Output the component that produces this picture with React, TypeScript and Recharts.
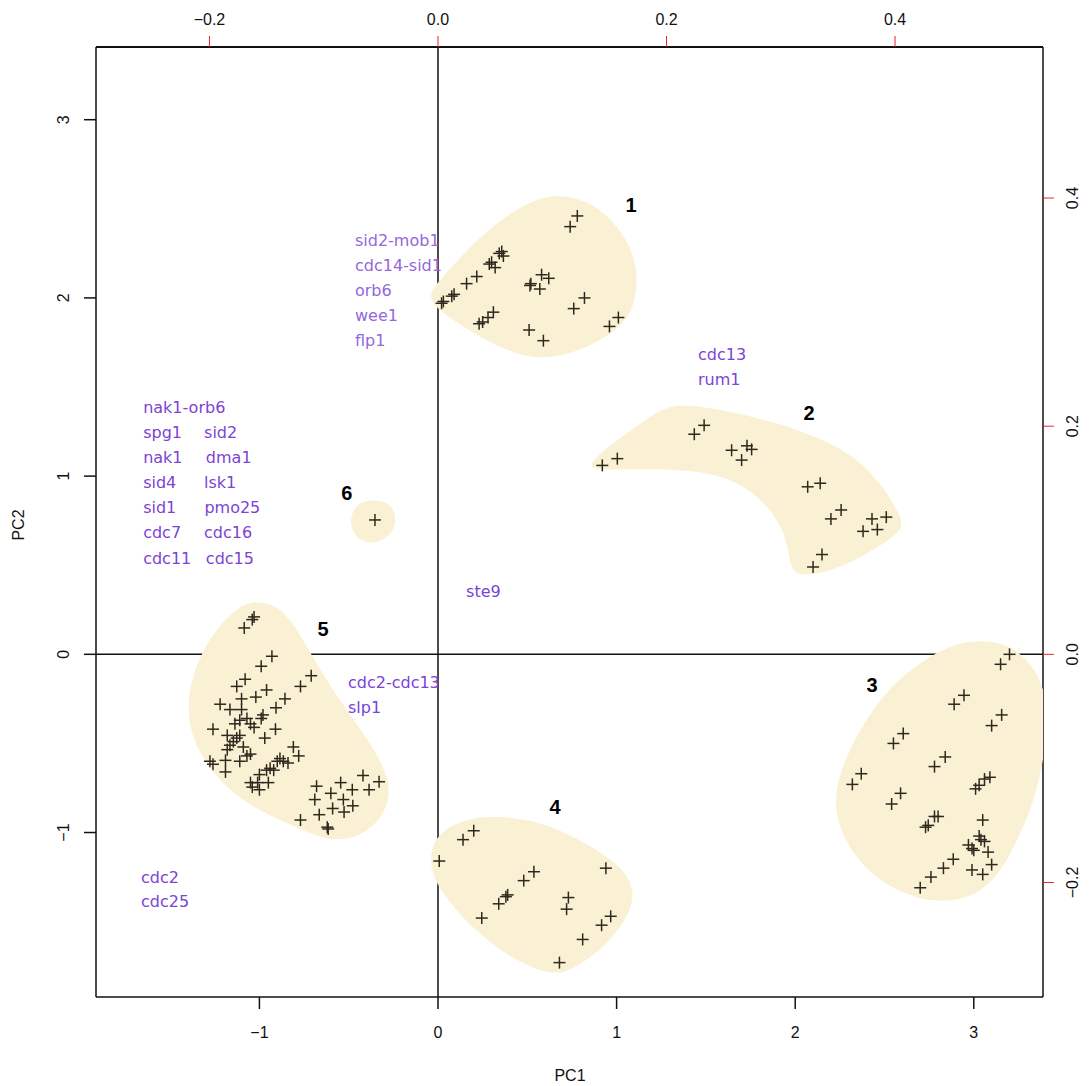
import { ScatterChart, Scatter, XAxis, YAxis, ReferenceLine, Curve, Customized } from 'recharts'

// PC scores, [PC1, PC2]
const cluster1 = [
	[0.78, 2.46], [0.74, 2.4], [0.357, 2.26], [0.343, 2.25], [0.366, 2.235], [0.3, 2.2], [0.287, 2.19], [0.32, 2.17],
	[0.217, 2.12], [0.16, 2.08], [0.09, 2.02], [0.077, 2.01], [0.03, 1.98], [0.02, 1.97], [0.31, 1.92], [0.28, 1.89],
	[0.25, 1.865], [0.23, 1.855], [0.58, 2.13], [0.62, 2.11], [0.52, 2.08], [0.515, 2.07], [0.57, 2.05], [0.82, 2.0],
	[0.76, 1.94], [1.01, 1.89], [0.96, 1.84], [0.51, 1.82], [0.59, 1.76],
]
const cluster2 = [
	[1.49, 1.285], [1.435, 1.235], [1.004, 1.098], [0.92, 1.06], [1.644, 1.145], [1.73, 1.17], [1.756, 1.15], [1.7, 1.09],
	[2.14, 0.96], [2.07, 0.94], [2.257, 0.81], [2.2, 0.76], [2.51, 0.77], [2.43, 0.76], [2.46, 0.7], [2.38, 0.69],
	[2.15, 0.56], [2.1, 0.49],
]
const cluster3 = [
	[3.2, 0.0], [3.15, -0.056], [2.945, -0.23], [2.89, -0.28], [3.156, -0.34], [3.1, -0.4], [2.605, -0.445], [2.55, -0.5],
	[2.84, -0.576], [2.78, -0.63], [2.37, -0.67], [2.32, -0.73], [3.09, -0.69], [3.06, -0.7], [3.03, -0.735], [3.01, -0.755],
	[2.59, -0.78], [2.54, -0.84], [3.05, -0.93], [2.8, -0.91], [2.78, -0.91], [2.745, -0.96], [2.73, -0.97], [3.03, -1.02],
	[3.04, -1.04], [3.06, -1.05], [2.97, -1.07], [2.99, -1.09], [3.0, -1.1], [3.08, -1.11], [3.1, -1.18], [2.99, -1.21],
	[3.05, -1.235], [2.885, -1.15], [2.83, -1.2], [2.76, -1.25], [2.7, -1.31],
]
const cluster4 = [
	[0.007, -1.16], [0.2, -0.99], [0.14, -1.04], [0.94, -1.2], [0.537, -1.22], [0.48, -1.27], [0.39, -1.35], [0.38, -1.36],
	[0.34, -1.4], [0.73, -1.365], [0.72, -1.43], [0.245, -1.48], [0.967, -1.47], [0.916, -1.52], [0.81, -1.6], [0.68, -1.73],
]
const cluster5 = [
	[-1.03, 0.21], [-1.04, 0.195], [-1.085, 0.148], [-0.93, -0.011], [-0.99, -0.067], [-0.71, -0.12], [-0.77, -0.18],
	[-1.08, -0.14], [-1.127, -0.18], [-0.96, -0.2], [-1.02, -0.24], [-1.1, -0.25], [-1.22, -0.28], [-0.857, -0.25],
	[-0.907, -0.3], [-1.165, -0.31], [-1.1, -0.31], [-1.07, -0.36], [-1.05, -0.39], [-0.98, -0.34], [-0.99, -0.36],
	[-1.137, -0.39], [-1.11, -0.37], [-1.26, -0.42], [-1.03, -0.41], [-0.91, -0.42], [-1.18, -0.455], [-1.11, -0.455],
	[-1.127, -0.47], [-1.146, -0.49], [-1.165, -0.51], [-0.97, -0.47], [-1.09, -0.52], [-1.18, -0.535], [-1.05, -0.56],
	[-1.07, -0.57], [-0.81, -0.52], [-0.78, -0.57], [-0.885, -0.585], [-0.9, -0.6], [-0.866, -0.6], [-0.84, -0.61],
	[-1.19, -0.595], [-1.277, -0.6], [-1.26, -0.617], [-1.11, -0.6], [-0.94, -0.64], [-0.96, -0.65], [-0.92, -0.65],
	[-1.19, -0.66], [-1.0, -0.675], [-0.95, -0.72], [-1.01, -0.72], [-1.05, -0.72], [-1.04, -0.745], [-1.0, -0.76],
	[-0.42, -0.68], [-0.33, -0.715], [-0.386, -0.76], [-0.545, -0.72], [-0.48, -0.76], [-0.68, -0.74], [-0.6, -0.78],
	[-0.69, -0.815], [-0.53, -0.815], [-0.59, -0.865], [-0.477, -0.85], [-0.526, -0.885], [-0.665, -0.9], [-0.77, -0.93],
	[-0.62, -0.97], [-0.615, -0.98],
]
const cluster6 = [[-0.353, 0.754]]

// hull outlines of the shaded cluster areas (PC units)
const blob1 = [
	[-0.08, 2.0], [0.03, 2.12], [0.161, 2.27], [0.347, 2.44], [0.534, 2.55], [0.665, 2.58], [0.833, 2.55], [0.99, 2.43],
	[1.1, 2.25], [1.12, 2.08], [1.09, 1.92], [0.99, 1.81], [0.833, 1.72], [0.646, 1.66], [0.459, 1.67], [0.25, 1.77], [0.06, 1.89],
]
const blob2 = [
	[0.81, 1.04], [0.963, 1.175], [1.131, 1.29], [1.289, 1.41], [1.523, 1.385], [1.803, 1.325], [2.083, 1.24], [2.335, 1.115],
	[2.49, 0.945], [2.57, 0.81], [2.62, 0.71], [2.485, 0.615], [2.325, 0.52], [2.157, 0.455], [1.975, 0.43], [1.965, 0.604],
	[1.905, 0.754], [1.795, 0.89], [1.61, 1.0], [1.393, 1.035], [1.149, 1.04], [0.963, 1.035],
]
const blob3 = [
	[3.016, 0.08], [3.184, 0.065], [3.33, -0.05], [3.41, -0.238], [3.42, -0.425], [3.35, -0.8], [3.25, -1.03], [3.155, -1.22],
	[3.016, -1.355], [2.848, -1.39], [2.69, -1.375], [2.5, -1.295], [2.33, -1.14], [2.225, -0.93], [2.225, -0.743], [2.295, -0.55],
	[2.41, -0.34], [2.562, -0.15], [2.736, -0.02], [2.885, 0.055],
]
const blob4 = [
	[-0.045, -1.164], [-0.03, -1.055], [0.045, -0.975], [0.161, -0.925], [0.31, -0.905], [0.497, -0.925], [0.69, -0.985],
	[0.88, -1.09], [1.03, -1.195], [1.1, -1.313], [1.08, -1.44], [0.99, -1.575], [0.875, -1.69], [0.739, -1.775],
	[0.646, -1.795], [0.51, -1.755], [0.36, -1.67], [0.19, -1.535], [0.055, -1.38], [-0.02, -1.266],
]
const blob5 = [
	[-1.015, 0.3], [-0.895, 0.27], [-0.8, 0.16], [-0.705, -0.01], [-0.593, -0.195], [-0.462, -0.382], [-0.33, -0.572],
	[-0.262, -0.745], [-0.292, -0.885], [-0.395, -1.0], [-0.53, -1.048], [-0.665, -1.028], [-0.815, -0.96], [-0.985, -0.885],
	[-1.137, -0.79], [-1.27, -0.655], [-1.365, -0.5], [-1.405, -0.331], [-1.385, -0.144], [-1.305, 0.05], [-1.19, 0.205], [-1.09, 0.28],
]
const blob6 = [
	[-0.495, 0.765], [-0.455, 0.845], [-0.37, 0.87], [-0.272, 0.852], [-0.232, 0.782], [-0.246, 0.69], [-0.322, 0.628],
	[-0.408, 0.623], [-0.478, 0.675],
]

const clusterNames = [
	{ x: 1.081, y: 2.522, label: '1' }, { x: 2.077, y: 1.354, label: '2' }, { x: 2.43, y: -0.173, label: '3' },
	{ x: 0.655, y: -0.856, label: '4' }, { x: -0.644, y: 0.142, label: '5' }, { x: -0.51, y: 0.905, label: '6' },
]
const upperGenes = [
	{ x: -0.465, y: 2.32, label: 'sid2-mob1' }, { x: -0.465, y: 2.18, label: 'cdc14-sid1' }, { x: -0.465, y: 2.04, label: 'orb6' },
	{ x: -0.465, y: 1.9, label: 'wee1' }, { x: -0.465, y: 1.76, label: 'flp1' },
]
const genes = [
	{ x: -1.651, y: 1.384, label: 'nak1-orb6' },
	{ x: -1.651, y: 1.244, label: 'spg1' }, { x: -1.31, y: 1.244, label: 'sid2' },
	{ x: -1.651, y: 1.103, label: 'nak1' }, { x: -1.3, y: 1.103, label: 'dma1' },
	{ x: -1.651, y: 0.963, label: 'sid4' }, { x: -1.31, y: 0.963, label: 'lsk1' },
	{ x: -1.651, y: 0.823, label: 'sid1' }, { x: -1.308, y: 0.823, label: 'pmo25' },
	{ x: -1.651, y: 0.682, label: 'cdc7' }, { x: -1.31, y: 0.682, label: 'cdc16' },
	{ x: -1.651, y: 0.539, label: 'cdc11' }, { x: -1.3, y: 0.539, label: 'cdc15' },
	{ x: 1.456, y: 1.68, label: 'cdc13' }, { x: 1.456, y: 1.54, label: 'rum1' },
	{ x: 0.157, y: 0.35, label: 'ste9' },
	{ x: -0.504, y: -0.156, label: 'cdc2-cdc13' }, { x: -0.504, y: -0.296, label: 'slp1' },
	{ x: -1.663, y: -1.253, label: 'cdc2' }, { x: -1.663, y: -1.388, label: 'cdc25' },
]

const pcTicks = [-1, 0, 1, 2, 3]
const loadingTicks = [-0.2, 0, 0.2, 0.4]
// origin of the loadings scale, used only to bind the secondary axes
const loadingOrigin = [{ lx: 0, ly: 0 }]

const toPts = (a: number[][]) => a.map(([x, y]) => ({ x, y }))
const fmt = (v: number, d: number) => v.toFixed(d).replace('-', '\u2212')

const tickFont = '"Liberation Sans", Arial, sans-serif'
const labelFont = '"DejaVu Sans", sans-serif'
const fillBlob = '#faf0d3'

const Plus = (p: any) => {
	const s = 6
	return (
		<g stroke="#2e291e" strokeWidth={1.5}>
			<line x1={p.cx - s} x2={p.cx + s} y1={p.cy} y2={p.cy} />
			<line x1={p.cx} x2={p.cx} y1={p.cy - s} y2={p.cy + s} />
		</g>
	)
}
const blobLine = (p: any) => <Curve points={p.points} type="basisClosed" fill={fillBlob} stroke="none" />
const nothing = () => <g />
const textShape = (color: string, size: number, bold: boolean, font: string, anchor: string) => (p: any) => (
	<text x={p.cx} y={p.cy} fill={color} fontSize={size} fontWeight={bold ? 700 : 400} fontFamily={font}
		textAnchor={anchor} dominantBaseline="central">{p.payload.label}</text>
)

const BottomTick = (p: any) => (
	<text x={p.x} y={p.y + 21} textAnchor="middle" dominantBaseline="central" fontSize={16} fontFamily={tickFont} fill="#111">{fmt(p.payload.value, 0)}</text>
)
const LeftTick = (p: any) => (
	<text transform={`translate(${p.x - 19},${p.y}) rotate(-90)`} textAnchor="middle" dominantBaseline="central" fontSize={16} fontFamily={tickFont} fill="#111">{fmt(p.payload.value, 0)}</text>
)
const TopTick = (p: any) => (
	<text x={p.x} y={p.y - 15} textAnchor="middle" dominantBaseline="central" fontSize={16} fontFamily={tickFont} fill="#111">{fmt(p.payload.value, 1)}</text>
)
const RightTick = (p: any) => (
	<text transform={`translate(${p.x + 16},${p.y}) rotate(-90)`} textAnchor="middle" dominantBaseline="central" fontSize={16} fontFamily={tickFont} fill="#111">{fmt(p.payload.value, 1)}</text>
)

const AxisTitles = () => (
	<g fontFamily={tickFont} fontSize={16} fill="#111">
		<text x={570} y={1075} textAnchor="middle" dominantBaseline="central">PC1</text>
		<text transform="translate(18,525) rotate(-90)" textAnchor="middle" dominantBaseline="central">PC2</text>
	</g>
)

const blobs = [blob1, blob2, blob3, blob4, blob5, blob6]
const clusters = [cluster1, cluster2, cluster3, cluster4, cluster5, cluster6]

export default function App() {
	return (
		<div style={{ position: 'absolute', left: 0, top: 0, background: '#fff' }}>
			<ScatterChart width={1091} height={1086} margin={{ top: 46, right: 47, bottom: 88, left: 95 }}>
				<XAxis xAxisId="pc" type="number" dataKey="x" domain={[-1.915, 3.3875]} ticks={pcTicks} allowDataOverflow interval={0}
					height={1} tickSize={12} stroke="#111" strokeWidth={1.5} tick={BottomTick} />
				<XAxis xAxisId="load" orientation="top" type="number" dataKey="lx" domain={[-0.2993, 0.5295]} ticks={loadingTicks} allowDataOverflow interval={0}
					height={1} tickSize={11} stroke="#111" strokeWidth={2} tickLine={{ stroke: '#e8262b', strokeWidth: 1 }} tick={TopTick} />
				<YAxis yAxisId="pc" type="number" dataKey="y" domain={[-1.923, 3.408]} ticks={pcTicks} allowDataOverflow interval={0}
					width={1} tickSize={12} stroke="#111" strokeWidth={1.5} tick={LeftTick} />
				<YAxis yAxisId="load" orientation="right" type="number" dataKey="ly" domain={[-0.3004, 0.5324]} ticks={loadingTicks} allowDataOverflow interval={0}
					width={1} tickSize={11} stroke="#111" strokeWidth={1.5} tickLine={{ stroke: '#e8262b', strokeWidth: 1 }} tick={RightTick} />

				<Scatter xAxisId="load" yAxisId="load" data={loadingOrigin} dataKey="ly" shape={nothing} isAnimationActive={false} />

				{blobs.map((b, i) => (
					<Scatter key={'b' + i} xAxisId="pc" yAxisId="pc" data={toPts(b)} shape={nothing} line={blobLine} isAnimationActive={false} />
				))}

				<ReferenceLine xAxisId="pc" yAxisId="pc" x={0} stroke="#111" strokeWidth={1.5} />
				<ReferenceLine xAxisId="pc" yAxisId="pc" y={0} stroke="#111" strokeWidth={1.5} />

				{clusters.map((c, i) => (
					<Scatter key={'c' + i} xAxisId="pc" yAxisId="pc" data={toPts(c)} shape={Plus} isAnimationActive={false} />
				))}

				<Scatter xAxisId="pc" yAxisId="pc" data={clusterNames} shape={textShape('#000', 20, true, tickFont, 'middle')} isAnimationActive={false} />
				<Scatter xAxisId="pc" yAxisId="pc" data={upperGenes} shape={textShape('#9467dd', 16, false, labelFont, 'start')} isAnimationActive={false} />
				<Scatter xAxisId="pc" yAxisId="pc" data={genes} shape={textShape('#7b43d6', 16, false, labelFont, 'start')} isAnimationActive={false} />

				<Customized component={AxisTitles} />
			</ScatterChart>
		</div>
	)
}
